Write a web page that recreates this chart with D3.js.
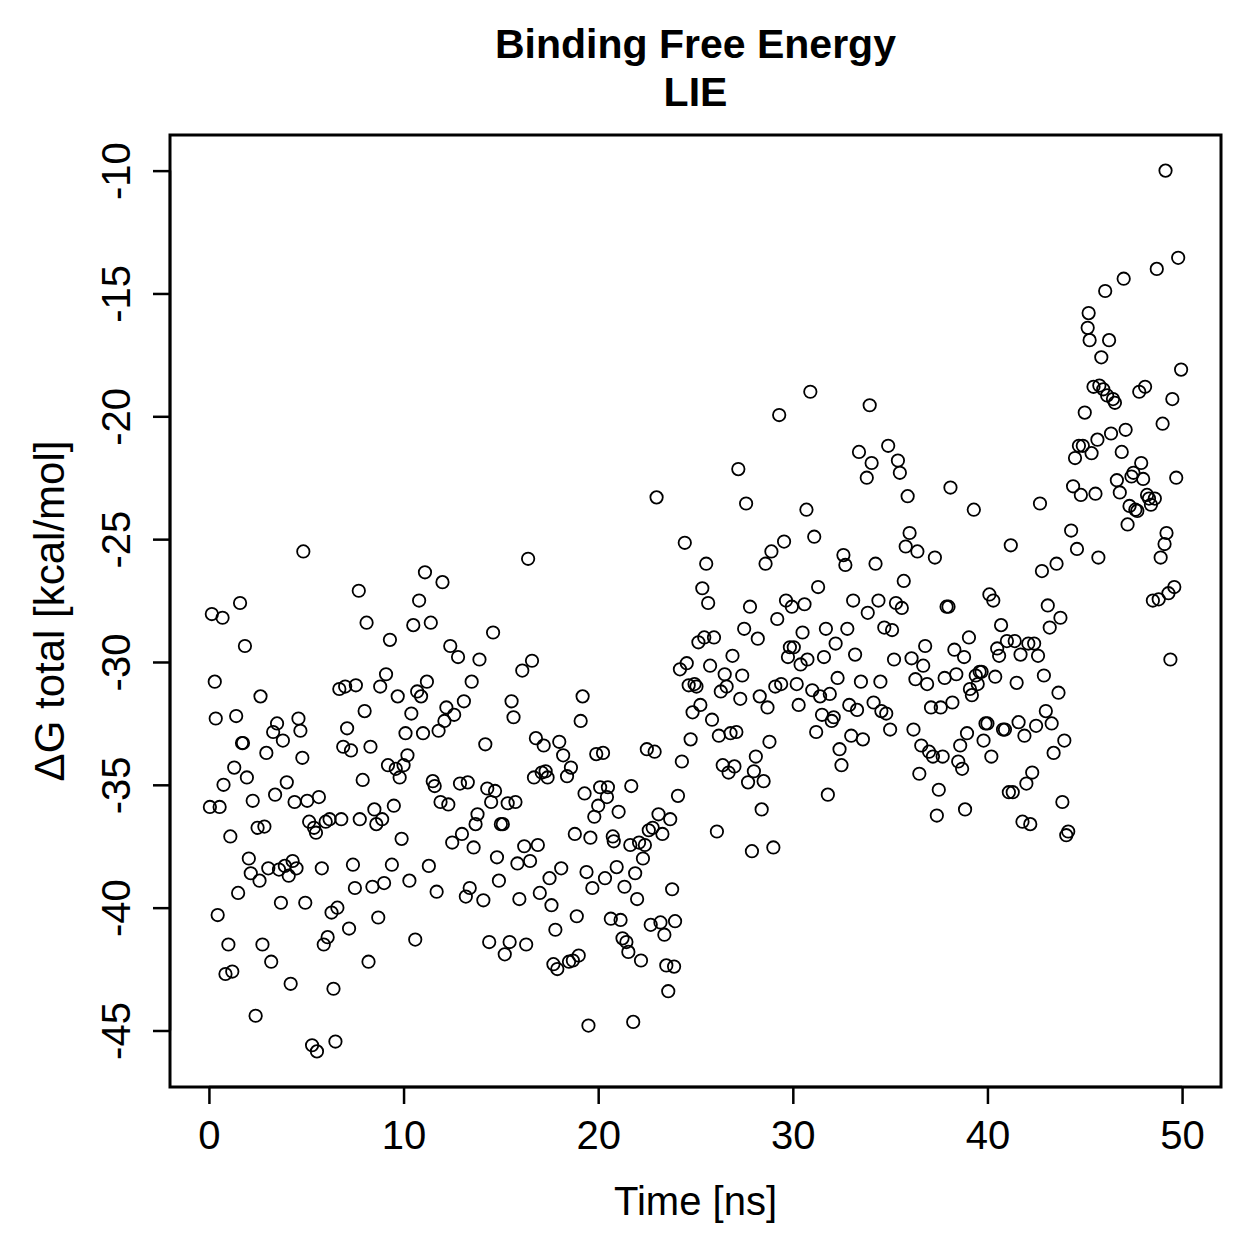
<!DOCTYPE html>
<html>
<head>
<meta charset="utf-8">
<script src="https://cdn.jsdelivr.net/npm/d3@7"></script>
<style>
  body { margin: 0; background: #fff; }
  text { font-family: "Liberation Sans", Arial, Helvetica, sans-serif; fill: #000; }
</style>
</head>
<body>
<div id="chart"></div>
<script>
// time [ns] and binding free energy [kcal/mol]
let time = [
  0.05,0.15,0.3,0.35,0.45,0.55,0.7,0.75,0.85,1.0,1.1,1.2,1.3,1.4,1.5,1.6,1.7,1.75,1.85,1.95,
  2.05,2.15,2.25,2.4,2.5,2.6,2.65,2.75,2.85,2.95,3.05,3.2,3.3,3.4,3.5,3.6,3.7,3.8,3.9,4.0,
  4.1,4.2,4.3,4.4,4.5,4.6,4.7,4.8,4.85,4.95,
  5.05,5.15,5.3,5.4,5.5,5.55,5.65,5.8,5.9,6.0,6.1,6.2,6.3,6.4,6.5,6.6,6.7,6.8,6.9,7.0,
  7.1,7.2,7.3,7.4,7.5,7.55,7.7,7.75,7.9,8.0,8.1,8.2,8.3,8.4,8.5,8.6,8.7,8.8,8.9,9.0,
  9.1,9.2,9.3,9.4,9.5,9.6,9.7,9.8,9.9,10.0,
  10.1,10.2,10.3,10.4,10.5,10.6,10.7,10.8,10.9,11.0,11.1,11.2,11.3,11.4,11.5,11.6,11.7,11.8,11.9,12.0,
  12.1,12.2,12.3,12.4,12.5,12.6,12.8,12.9,13.0,13.1,13.2,13.3,13.4,13.5,13.6,13.7,13.8,13.9,14.1,14.2,
  14.3,14.4,14.5,14.6,14.7,14.8,14.9,15.0,15.1,
  15.2,15.35,15.45,15.55,15.65,15.75,15.85,15.95,16.1,16.2,16.3,16.4,16.5,16.6,16.7,16.8,16.9,17.0,17.1,17.2,
  17.3,17.4,17.5,17.6,17.7,17.8,17.9,18.0,18.1,18.2,18.4,18.5,18.6,18.7,18.8,18.9,19.0,19.1,19.2,19.3,
  19.4,19.5,19.6,19.7,19.8,19.9,20.0,
  20.1,20.25,20.35,20.45,20.5,20.65,20.75,20.8,20.95,21.05,21.15,21.25,21.35,21.45,21.55,21.65,21.7,21.8,21.9,22.0,
  22.1,22.2,22.3,22.4,22.5,22.6,22.7,22.8,22.9,23.0,23.1,23.2,23.3,23.4,23.5,23.6,23.7,23.8,23.9,23.95,
  24.1,24.2,24.3,24.45,24.55,24.65,24.75,24.85,24.95,
  25.05,25.15,25.25,25.35,25.45,25.55,25.65,25.75,25.85,25.95,26.1,26.2,26.3,26.4,26.5,26.6,26.7,26.8,26.9,27.0,
  27.1,27.2,27.3,27.4,27.5,27.6,27.7,27.8,27.9,28.0,28.1,28.2,28.3,28.4,28.5,28.6,28.7,28.8,28.9,29.0,
  29.1,29.2,29.3,29.4,29.55,29.65,29.75,29.85,29.95,
  30.05,30.2,30.3,30.4,30.5,30.6,30.7,30.75,30.9,31.0,31.1,31.2,31.3,31.4,31.5,31.6,31.7,31.8,31.9,32.0,
  32.1,32.2,32.3,32.4,32.5,32.6,32.7,32.8,32.9,33.0,33.1,33.2,33.3,33.4,33.5,33.6,33.8,33.85,33.95,34.05,
  34.15,34.25,34.4,34.5,34.55,34.7,34.8,34.9,35.0,
  35.1,35.2,35.3,35.4,35.5,35.6,35.7,35.8,35.9,36.0,36.1,36.2,36.3,36.4,36.5,36.6,36.7,36.8,36.9,37.0,
  37.1,37.2,37.3,37.4,37.5,37.6,37.7,37.8,37.9,38.0,38.1,38.2,38.3,38.4,38.5,38.6,38.7,38.8,38.85,38.95,
  39.05,39.1,39.2,39.3,39.4,39.5,39.6,39.7,39.8,39.9,
  40.0,40.1,40.2,40.3,40.4,40.5,40.6,40.7,40.8,40.9,41.0,41.1,41.2,41.3,41.4,41.5,41.6,41.7,41.8,41.9,
  42.0,42.1,42.2,42.3,42.4,42.5,42.6,42.7,42.8,42.9,43.0,43.1,43.2,43.3,43.4,43.55,43.65,43.75,43.85,43.95,
  44.05,44.15,44.3,44.4,44.5,44.6,44.7,44.8,44.9,
  45.0,45.15,45.2,45.25,45.35,45.45,45.55,45.65,45.7,45.75,45.85,45.95,46.05,46.15,46.25,46.35,46.45,46.55,46.65,46.8,
  46.9,47.0,47.1,47.2,47.3,47.4,47.5,47.6,47.7,47.8,47.9,48.0,48.1,48.2,48.3,48.4,48.5,48.6,48.7,48.8,
  48.9,49.0,49.1,49.15,49.2,49.3,49.4,49.5,49.6,49.7,49.8,49.95
];
let dG = [
  -35.9,-28.05,-30.8,-32.3,-40.3,-35.9,-28.2,-35.0,-42.7,-41.5,-37.1,-42.6,-34.3,-32.2,-39.4,-27.6,-33.3,-33.3,-29.35,-34.7,
  -38.0,-38.6,-35.65,-44.4,-36.75,-38.9,-31.4,-41.5,-36.7,-33.7,-38.4,-42.2,-32.85,-35.4,-32.5,-38.45,-39.8,-33.2,-38.3,-34.9,
  -38.7,-43.1,-38.1,-35.7,-38.4,-32.3,-32.8,-33.9,-25.5,-39.8,
  -35.65,-36.5,-45.6,-36.75,-36.95,-45.85,-35.5,-38.4,-41.5,-36.5,-41.2,-36.4,-40.2,-43.3,-45.45,-40.0,-31.1,-36.4,-33.45,-31.0,
  -32.7,-40.85,-33.6,-38.25,-39.2,-30.95,-27.1,-36.4,-34.8,-32.0,-28.4,-42.2,-33.45,-39.15,-36.0,-36.6,-40.4,-31.0,-36.4,-39.0,
  -30.5,-34.2,-29.1,-38.25,-35.85,-34.35,-31.4,-34.7,-37.2,-34.2,
  -32.9,-33.8,-38.9,-32.1,-28.5,-41.3,-31.2,-27.5,-31.4,-32.9,-26.35,-30.8,-38.3,-28.4,-34.85,-35.05,-39.35,-32.8,-35.7,-26.75,
  -32.4,-31.85,-35.8,-29.35,-37.35,-32.15,-29.8,-34.95,-37.0,-31.6,-39.55,-34.9,-39.2,-30.8,-37.55,-36.6,-36.2,-29.9,-39.7,-33.35,
  -35.15,-41.4,-35.7,-28.8,-35.25,-37.95,-38.9,-36.6,-36.6,
  -41.9,-35.75,-41.4,-31.6,-32.25,-35.7,-38.2,-39.65,-30.35,-37.5,-41.5,-25.8,-38.1,-29.95,-34.7,-33.1,-37.45,-39.4,-34.5,-33.4,
  -34.45,-34.7,-38.8,-39.9,-42.3,-40.9,-42.5,-33.25,-38.4,-33.8,-34.65,-42.2,-34.3,-42.15,-37.0,-40.35,-41.95,-32.4,-31.4,-35.35,
  -38.55,-44.8,-37.15,-39.2,-36.3,-33.75,-35.85,
  -35.1,-33.7,-38.8,-35.5,-35.1,-40.45,-37.1,-37.3,-38.35,-36.1,-40.5,-41.25,-39.15,-41.4,-41.8,-37.45,-35.05,-44.65,-38.6,-39.65,
  -37.35,-42.15,-38.0,-37.45,-33.55,-36.85,-40.7,-36.75,-33.65,-23.3,-36.2,-40.6,-37.0,-41.1,-42.35,-43.4,-36.4,-39.25,-42.4,-40.55,
  -35.45,-30.3,-34.05,-25.15,-30.05,-30.95,-33.15,-32.05,-30.9,
  -31.0,-29.2,-31.75,-27.0,-29.0,-26.0,-27.6,-30.15,-32.35,-29.0,-36.9,-33.0,-31.2,-34.2,-30.5,-31.0,-34.5,-32.9,-29.75,-34.25,
  -32.85,-22.15,-31.5,-30.55,-28.65,-23.55,-34.9,-27.75,-37.7,-34.45,-33.85,-29.05,-31.4,-36.0,-34.85,-26.0,-31.85,-33.25,-25.5,-37.55,
  -31.0,-28.25,-19.95,-30.9,-25.1,-27.5,-29.8,-29.4,-27.75,
  -29.4,-30.9,-31.75,-30.1,-28.8,-27.65,-23.8,-29.9,-19.0,-31.15,-24.9,-32.85,-26.95,-31.4,-32.15,-29.8,-28.65,-35.4,-31.3,-32.4,
  -32.25,-29.25,-30.65,-33.55,-34.2,-25.65,-26.05,-28.65,-31.75,-33.0,-27.5,-29.7,-31.95,-21.45,-30.8,-33.15,-22.5,-28.0,-19.55,-21.9,
  -31.65,-26.0,-27.5,-30.8,-32.0,-28.6,-32.1,-21.2,-32.75,
  -28.7,-29.9,-27.6,-21.8,-22.3,-27.8,-26.7,-25.3,-23.25,-24.75,-29.85,-32.75,-30.7,-25.5,-34.55,-33.4,-30.15,-29.35,-30.9,-33.65,
  -31.85,-33.85,-25.75,-36.25,-35.2,-31.85,-33.85,-30.65,-27.75,-27.75,-22.9,-31.65,-29.5,-30.5,-34.05,-33.4,-34.35,-29.8,-36.0,-32.9,
  -29.0,-31.1,-31.35,-23.8,-30.55,-30.9,-30.4,-30.4,-33.2,-32.5,
  -32.5,-27.25,-33.85,-27.5,-30.6,-29.45,-29.75,-28.5,-32.75,-32.75,-29.15,-35.3,-25.25,-35.3,-29.15,-30.85,-32.45,-29.7,-36.5,-33.0,
  -34.95,-29.25,-36.6,-34.5,-29.25,-32.6,-29.75,-23.55,-26.3,-30.55,-32.0,-27.7,-28.6,-32.5,-33.7,-26.0,-31.25,-28.2,-35.7,-33.2,
  -37.05,-36.9,-24.65,-22.85,-21.7,-25.4,-21.2,-23.2,-21.2,
  -19.85,-16.4,-15.8,-16.9,-21.5,-18.8,-23.15,-20.95,-25.75,-18.75,-17.6,-18.9,-14.9,-19.15,-16.9,-20.7,-19.3,-19.45,-22.6,-23.1,
  -21.45,-14.4,-20.55,-24.4,-23.65,-22.45,-22.3,-23.8,-23.85,-19.0,-21.9,-22.55,-18.8,-23.2,-23.35,-23.6,-27.5,-23.35,-14.0,-27.45,
  -25.75,-20.3,-25.2,-10.0,-24.75,-27.2,-29.9,-19.3,-26.95,-22.5,-13.55,-18.1
];
let xTicks = [0, 10, 20, 30, 40, 50];
let yTicks = [-45, -40, -35, -30, -25, -20, -15, -10];

let width = 1259, height = 1259;
let box = {left: 170, right: 1221, top: 135, bottom: 1087};

let svg = d3.select("#chart")
    .append("svg")
    .attr("width", width)
    .attr("height", height);

// R pads the data range by 4% on each side
let x = d3.scaleLinear()
    .domain([-2, 52])
    .range([box.left, box.right]);
let y = d3.scaleLinear()
    .domain([-47.3, -8.55])
    .range([box.bottom, box.top]);

let points = time.map(function (t, i) { return {t: t, g: dG[i]}; });

svg.append("g")
    .selectAll("circle")
    .data(points)
    .enter()
    .append("circle")
    .attr("cx", function (d) { return x(d.t); })
    .attr("cy", function (d) { return y(d.g); })
    .attr("r", 6.2)
    .attr("fill", "none")
    .attr("stroke", "#000")
    .attr("stroke-width", 1.8);

// plain hyphen for the minus sign, like R
let plain = function (d) { return String(d); };

// x axis
let xAxis = svg.append("g")
    .attr("transform", `translate(0,${box.bottom})`)
    .call(d3.axisBottom(x).tickValues(xTicks).tickSize(17).tickFormat(plain));
xAxis.select(".domain").attr("d", `M${x(0)},0H${x(50)}`).attr("stroke-width", 2.5);
xAxis.selectAll(".tick line").attr("stroke-width", 2.5);
xAxis.selectAll("text")
    .attr("font-family", "Liberation Sans, Arial, sans-serif")
    .attr("font-size", 40)
    .attr("fill", "#000")
    .attr("y", 62)
    .attr("dy", null);

// y axis, labels turned like R's default las=0
let yAxis = svg.append("g")
    .attr("transform", `translate(${box.left},0)`)
    .call(d3.axisLeft(y).tickValues(yTicks).tickSize(17).tickFormat(plain));
yAxis.select(".domain").attr("d", `M0,${y(-45)}V${y(-10)}`).attr("stroke-width", 2.5);
yAxis.selectAll(".tick line").attr("stroke-width", 2.5);
yAxis.selectAll("text")
    .attr("font-family", "Liberation Sans, Arial, sans-serif")
    .attr("font-size", 40)
    .attr("fill", "#000")
    .attr("x", null)
    .attr("dy", null)
    .attr("text-anchor", "middle")
    .attr("transform", "translate(-40,0) rotate(-90)");

// plot box
svg.append("rect")
    .attr("x", box.left)
    .attr("y", box.top)
    .attr("width", box.right - box.left)
    .attr("height", box.bottom - box.top)
    .attr("fill", "none")
    .attr("stroke", "#000")
    .attr("stroke-width", 3);

// titles
svg.append("text")
    .attr("x", (box.left + box.right) / 2)
    .attr("y", 58)
    .attr("text-anchor", "middle")
    .style("font-size", "41px")
    .style("font-weight", "bold")
    .text("Binding Free Energy");
svg.append("text")
    .attr("x", (box.left + box.right) / 2)
    .attr("y", 106)
    .attr("text-anchor", "middle")
    .style("font-size", "41px")
    .style("font-weight", "bold")
    .text("LIE");

svg.append("text")
    .attr("x", (box.left + box.right) / 2)
    .attr("y", 1215)
    .attr("text-anchor", "middle")
    .style("font-size", "40px")
    .text("Time [ns]");

svg.append("text")
    .attr("transform", `translate(64,${(box.top + box.bottom) / 2}) rotate(-90)`)
    .attr("text-anchor", "middle")
    .style("font-size", "42px")
    .text("ΔG total [kcal/mol]");
</script>
</body>
</html>
